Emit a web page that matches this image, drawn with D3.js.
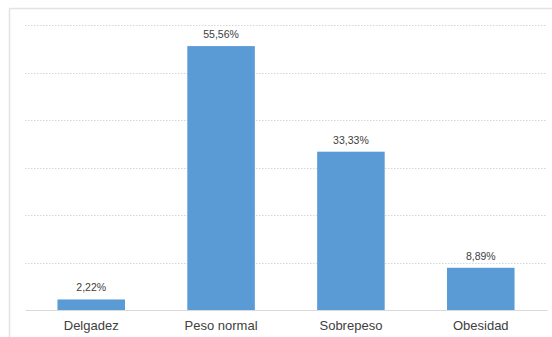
<!DOCTYPE html>
<html>
<head>
<meta charset="utf-8">
<script src="https://cdn.jsdelivr.net/npm/d3@7"></script>
<style>
  html, body { margin: 0; padding: 0; background: #fff; }
  svg { display: block; font-family: "Liberation Sans", Arial, sans-serif; }
</style>
</head>
<body>
<svg id="chart" width="552" height="337"></svg>
<script>
// Distribución por estado nutricional (%)
const categories = ["Delgadez", "Peso normal", "Sobrepeso", "Obesidad"];
const values = [2.22, 55.56, 33.33, 8.89];
const gridTicks = [0, 10, 20, 30, 40, 50, 60];

const svg = d3.select("#chart");
const W = 552, H = 337;
const plot = { left: 25, right: 547, top: 25, bottom: 310 };

// Chart area frame (light gray border on top and left)
svg.append("line")
  .attr("x1", 9.5).attr("x2", W).attr("y1", 8.5).attr("y2", 8.5)
  .attr("stroke", "#e2e2e2").attr("stroke-width", 1.5);
svg.append("line")
  .attr("x1", 9.5).attr("x2", 9.5).attr("y1", 8.5).attr("y2", H)
  .attr("stroke", "#e2e2e2").attr("stroke-width", 1.5);

const x = d3.scaleBand()
  .domain(categories)
  .range([plot.left, plot.right])
  .paddingInner(0.48)
  .paddingOuter(0.25);

const y = d3.scaleLinear()
  .domain([0, 60])
  .range([plot.bottom, plot.top]);

// Dotted horizontal gridlines
svg.append("g")
  .selectAll("line")
  .data(gridTicks.filter(d => d > 0))
  .join("line")
  .attr("x1", plot.left).attr("x2", plot.right)
  .attr("y1", d => Math.round(y(d)) + 0.5)
  .attr("y2", d => Math.round(y(d)) + 0.5)
  .attr("stroke", "#d6d6d6")
  .attr("stroke-width", 1)
  .attr("stroke-dasharray", "1.5,1.5");

// Bars
svg.append("g")
  .selectAll("rect")
  .data(values)
  .join("rect")
  .attr("x", (d, i) => x(categories[i]))
  .attr("y", d => y(d))
  .attr("width", x.bandwidth())
  .attr("height", d => y(0) - y(d))
  .attr("fill", "#5b9bd5");

// Category axis (baseline + labels)
const xAxis = d3.axisBottom(x).tickSize(0).tickPadding(11);
const gx = svg.append("g")
  .attr("transform", `translate(0,${plot.bottom})`)
  .call(xAxis);
gx.select(".domain").attr("stroke", "#d9d9d9").attr("stroke-width", 1.2);
gx.selectAll("text")
  .attr("font-size", "13px")
  .attr("font-family", "\"Liberation Sans\", Arial, sans-serif")
  .attr("fill", "#404040");

// Value labels above bars
const fmt = v => d3.format(".2f")(v).replace(".", ",") + "%";
svg.append("g")
  .selectAll("text")
  .data(values)
  .join("text")
  .attr("x", (d, i) => x(categories[i]) + x.bandwidth() / 2)
  .attr("y", d => y(d) - 8)
  .attr("text-anchor", "middle")
  .attr("font-size", "10.5px")
  .attr("fill", "#404040")
  .text(fmt);
</script>
</body>
</html>
